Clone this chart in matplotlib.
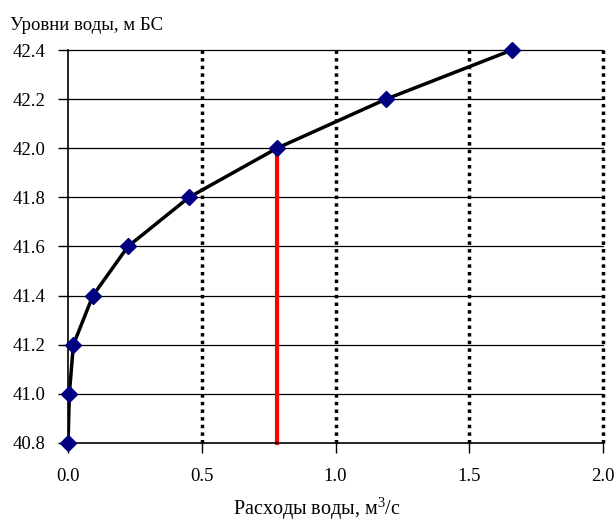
import matplotlib.pyplot as plt
import numpy as np

# rating curve: discharge vs water level
discharge = [0.0, 0.005, 0.02, 0.093, 0.224, 0.452, 0.781, 1.189, 1.66]
level = [40.8, 41.0, 41.2, 41.4, 41.6, 41.8, 42.0, 42.2, 42.4]
marked_q = 0.781
marked_h = 42.0

plt.rcParams['font.family'] = ['Liberation Serif', 'DejaVu Serif']
plt.rcParams['mathtext.fontset'] = 'custom'
plt.rcParams['mathtext.rm'] = 'Liberation Serif'

fig = plt.figure(figsize=(6.15, 5.28), dpi=100)
ax = fig.add_axes([0.1106, 0.161, 0.8699, 0.7443])

ax.set_xlim(0, 2.0)
ax.set_ylim(40.8, 42.4)
xt = np.arange(0, 2.01, 0.5)
yt = np.arange(40.8, 42.41, 0.2)
ax.set_xticks(xt)
ax.set_yticks(yt)
ax.set_xticklabels([f'{v:.1f}' for v in xt])
ax.set_yticklabels([f'{v:.1f}' for v in yt])

for y in yt[1:]:
    ax.axhline(y, color='black', linewidth=0.9, zorder=1, clip_on=False)
for x in [0.5, 1.0, 1.5, 2.0]:
    ax.axvline(x, color='black', linewidth=2.5, linestyle=(0, (1, 1.2)),
               zorder=1, clip_on=False)

ax.plot([marked_q, marked_q], [40.8, marked_h], color='red', linewidth=3,
        zorder=2, clip_on=False, solid_capstyle='projecting')
ax.plot(discharge, level, color='black', linewidth=2.5, zorder=3)
ax.plot(discharge, level, linestyle='none', marker='D', markersize=8,
        color='#000080', zorder=4, clip_on=False)

for side in ['top', 'right']:
    ax.spines[side].set_visible(False)
ax.spines['left'].set_linewidth(1.2)
ax.spines['bottom'].set_linewidth(1.2)
ax.tick_params(direction='out', length=7, width=1, labelsize=13.5)
ax.tick_params(axis='y', pad=9)
ax.tick_params(axis='x', pad=11)

fig.text(0.017, 0.968, 'Уровни воды, м БС', fontsize=13.5, va='top', ha='left')
fig.text(0.515, 0.012, 'Расходы воды, м$^3$/с', fontsize=14.5, ha='center', va='bottom')

fig.savefig('out.png', dpi=100)
